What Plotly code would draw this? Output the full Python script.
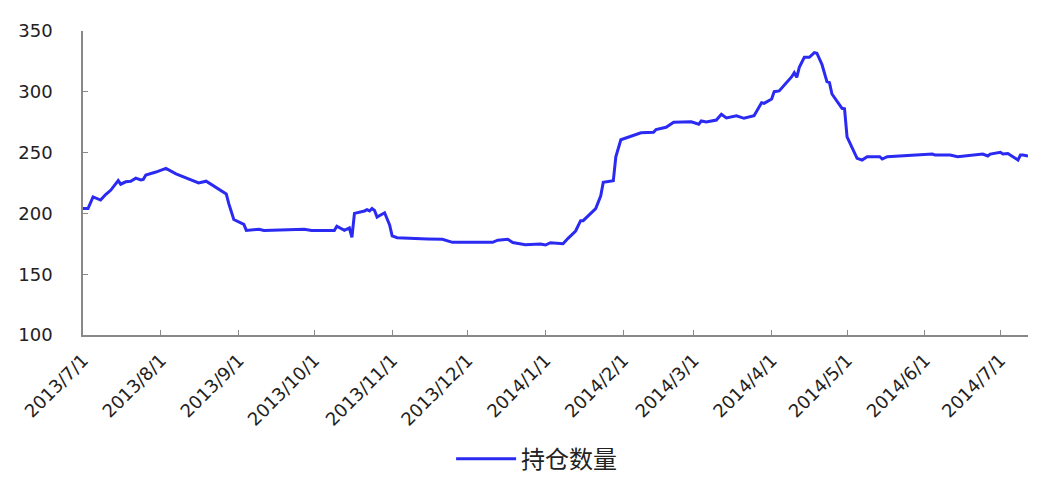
import plotly.graph_objects as go

dates = [
    "2013-07-01", "2013-07-03", "2013-07-05", "2013-07-08", "2013-07-10", "2013-07-12",
    "2013-07-15", "2013-07-16", "2013-07-18", "2013-07-20", "2013-07-22", "2013-07-24",
    "2013-07-25", "2013-07-26", "2013-07-30", "2013-08-03", "2013-08-07", "2013-08-11",
    "2013-08-16", "2013-08-19", "2013-08-22", "2013-08-24", "2013-08-27", "2013-08-28",
    "2013-08-30", "2013-09-03", "2013-09-04", "2013-09-09", "2013-09-11", "2013-09-27",
    "2013-09-30", "2013-10-09", "2013-10-10", "2013-10-13", "2013-10-15", "2013-10-16",
    "2013-10-17", "2013-10-21", "2013-10-22", "2013-10-23", "2013-10-24", "2013-10-25",
    "2013-10-26", "2013-10-29", "2013-10-31", "2013-11-01", "2013-11-03", "2013-11-15",
    "2013-11-21", "2013-11-25", "2013-12-11", "2013-12-13", "2013-12-17", "2013-12-19",
    "2013-12-24", "2013-12-30", "2014-01-01", "2014-01-03", "2014-01-08", "2014-01-10",
    "2014-01-13", "2014-01-15", "2014-01-16", "2014-01-21", "2014-01-23", "2014-01-24",
    "2014-01-28", "2014-01-29", "2014-01-31", "2014-02-08", "2014-02-13", "2014-02-14",
    "2014-02-18", "2014-02-21", "2014-02-28", "2014-03-03", "2014-03-04", "2014-03-06",
    "2014-03-10", "2014-03-12", "2014-03-14", "2014-03-18", "2014-03-21", "2014-03-25",
    "2014-03-26", "2014-03-28", "2014-03-29", "2014-04-01", "2014-04-02", "2014-04-04",
    "2014-04-09", "2014-04-10", "2014-04-11", "2014-04-12", "2014-04-14", "2014-04-16",
    "2014-04-18", "2014-04-19", "2014-04-21", "2014-04-23", "2014-04-24", "2014-04-25",
    "2014-04-29", "2014-04-30", "2014-05-01", "2014-05-05", "2014-05-07", "2014-05-09",
    "2014-05-14", "2014-05-15", "2014-05-17", "2014-05-26", "2014-06-04", "2014-06-05",
    "2014-06-11", "2014-06-14", "2014-06-20", "2014-06-24", "2014-06-26", "2014-06-27",
    "2014-07-01", "2014-07-02", "2014-07-04", "2014-07-08", "2014-07-09", "2014-07-10",
    "2014-07-12",
]

holdings = [
    204, 204, 213.5, 211, 215.5, 219,
    227, 224, 226, 226.5, 229, 227.5,
    228, 231.5, 234, 237, 232.5, 229,
    225, 226.5, 222.5, 220.5, 216, 208,
    195, 191, 186, 187, 186, 187,
    186, 186, 189.5, 186, 188, 180.3,
    200, 202, 203, 202, 204, 202.5,
    197, 200.5, 190.5, 181.5, 180, 179,
    178.7, 176.2, 176.2, 178, 178.7, 176,
    174.3, 174.8, 174, 175.9, 175, 179.5,
    185.5, 194, 194, 204, 214.5, 225.5,
    226.8, 246.6, 260.6, 266.3, 266.7, 269,
    270.8, 275, 275.4, 273.3, 276, 275.2,
    276.8, 281.5, 278.5, 280.3, 278.2, 280.3,
    283.6, 291, 290.5, 294.1, 300.1, 300.7,
    312.4, 315.7, 311.9, 320.1, 328.4, 328.4,
    332.2, 331.7, 322.6, 308.3, 307.5, 298.2,
    286.4, 286, 263, 245.3, 243.9, 246.6,
    246.6, 244.7, 246.6, 248, 248.8, 248,
    248, 246.6, 247.8, 248.8, 247.2, 248.8,
    250.2, 248.8, 249.3, 243.9, 248, 248,
    247.2,
]

tick_dates = [
    "2013-07-01", "2013-08-01", "2013-09-01", "2013-10-01", "2013-11-01", "2013-12-01",
    "2014-01-01", "2014-02-01", "2014-03-01", "2014-04-01", "2014-05-01", "2014-06-01",
    "2014-07-01",
]
tick_labels = [
    "2013/7/1", "2013/8/1", "2013/9/1", "2013/10/1", "2013/11/1", "2013/12/1",
    "2014/1/1", "2014/2/1", "2014/3/1", "2014/4/1", "2014/5/1", "2014/6/1",
    "2014/7/1",
]
series_name = "持仓数量"

fig = go.Figure()
fig.add_trace(go.Scatter(
    x=dates, y=holdings, mode="lines", name=series_name,
    line=dict(color="#2a2af2", width=3),
))

axis_color = "#888888"
fig.update_layout(
    width=1033, height=469,
    margin=dict(l=75, r=13, t=23, b=142, autoexpand=False),
    paper_bgcolor="white", plot_bgcolor="white",
    font=dict(family="DejaVu Sans, Liberation Sans, Arial", size=18, color="#222222"),
    showlegend=True,
    legend=dict(
        orientation="h", x=0.48, xanchor="center", y=-0.408, yanchor="middle",
        font=dict(family="Noto Sans CJK SC", size=24, color="#222222"),
        itemwidth=60,
    ),
    xaxis=dict(
        type="date", range=["2013-07-01", "2014-07-12"], automargin=False,
        tickmode="array", tickvals=tick_dates, ticktext=tick_labels,
        tickangle=-45, ticks="inside", ticklen=5, tickcolor=axis_color,
        showline=True, linecolor=axis_color, linewidth=1.5,
        showgrid=False, zeroline=False,
        tickfont=dict(size=18),
        ticklabelstandoff=6,
    ),
    yaxis=dict(
        range=[100, 350], tickvals=[100, 150, 200, 250, 300, 350], automargin=False,
        ticks="inside", ticklen=5, tickcolor=axis_color,
        showline=True, linecolor=axis_color, linewidth=1.5,
        showgrid=False, zeroline=False,
        tickfont=dict(size=18),
        ticklabelstandoff=25,
    ),
)

fig.write_html("out.html")
